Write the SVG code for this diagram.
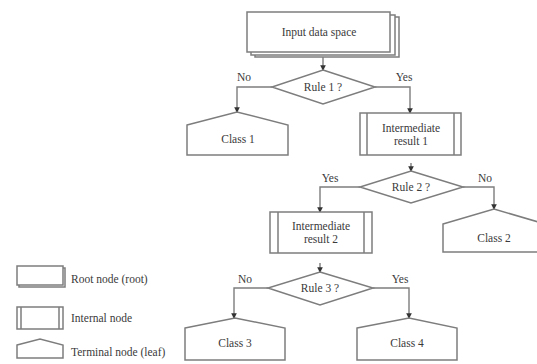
<svg xmlns="http://www.w3.org/2000/svg" width="537" height="364" viewBox="0 0 537 364">
<style>
.s{fill:#fff;stroke:#7d7d7d;stroke-width:1.5}
.l{fill:none;stroke:#7d7d7d;stroke-width:1.5}
.t{font-family:"Liberation Serif",serif;font-size:11.5px;fill:#3a3a3a;text-anchor:middle}
.lt{font-family:"Liberation Serif",serif;font-size:11.5px;fill:#3a3a3a}
.c{fill:none;stroke:#7d7d7d;stroke-width:1.4}
</style>
<defs>
<marker id="a" viewBox="0 0 6 6" refX="5" refY="3" markerWidth="4" markerHeight="4" orient="auto"><path d="M0,0L6,3L0,6Z" fill="#333"/></marker>
</defs>
<rect width="537" height="364" fill="#fff"/>
<g id="connectors">
<path class="c" d="M323,56V70" marker-end="url(#a)"/>
<path class="c" d="M272,87H237V112" marker-end="url(#a)"/>
<path class="c" d="M375,87H410V113" marker-end="url(#a)"/>
<path class="c" d="M411,163V171" marker-end="url(#a)"/>
<path class="c" d="M360,187H320V212" marker-end="url(#a)"/>
<path class="c" d="M463,187H494V209" marker-end="url(#a)"/>
<path class="c" d="M320,263V272" marker-end="url(#a)"/>
<path class="c" d="M268,288H234V318" marker-end="url(#a)"/>
<path class="c" d="M373,288H409V318" marker-end="url(#a)"/>
<text class="t" x="244" y="81">No</text>
<text class="t" x="404" y="81">Yes</text>
<text class="t" x="330" y="182">Yes</text>
<text class="t" x="485" y="182">No</text>
<text class="t" x="245" y="283">No</text>
<text class="t" x="400" y="283">Yes</text>
</g>
<g id="root">
<rect class="s" x="255" y="17" width="144" height="40"/>
<rect class="s" x="251" y="15" width="144" height="40"/>
<rect class="s" x="247" y="12" width="143" height="40"/>
<text class="t" x="319" y="36">Input data space</text>
</g>
<g id="rule1">
<path class="s" d="M323,70L375,87L323,104L272,87Z"/>
<text class="t" x="323" y="91">Rule 1 ?</text>
</g>
<g id="class1">
<path class="s" d="M187,125L237,112L288,125V155H187Z"/>
<text class="t" x="238" y="143">Class 1</text>
</g>
<g id="ir1">
<rect class="s" x="360" y="113" width="101" height="42"/>
<path class="l" d="M367,113V155M454,113V155"/>
<text class="t" x="411" y="132">Intermediate</text>
<text class="t" x="411" y="145">result 1</text>
</g>
<g id="rule2">
<path class="s" d="M411,171L463,187L411,203L360,187Z"/>
<text class="t" x="411" y="191">Rule 2 ?</text>
</g>
<g id="ir2">
<rect class="s" x="270" y="212" width="102" height="41"/>
<path class="l" d="M278,212V253M364,212V253"/>
<text class="t" x="321" y="230">Intermediate</text>
<text class="t" x="321" y="243">result 2</text>
</g>
<g id="class2">
<path class="s" d="M443,224L494,209L545,224V252H443Z"/>
<text class="t" x="494" y="242">Class 2</text>
</g>
<g id="rule3">
<path class="s" d="M320,272L373,288L320,305L268,288Z"/>
<text class="t" x="320" y="292">Rule 3 ?</text>
</g>
<g id="class3">
<path class="s" d="M185,328L235,318L285,328V360H185Z"/>
<text class="t" x="235" y="347">Class 3</text>
</g>
<g id="class4">
<path class="s" d="M357,328L409,318L457,328V360H357Z"/>
<text class="t" x="407" y="347">Class 4</text>
</g>
<g id="legend">
<rect class="s" x="19" y="268" width="46" height="19"/>
<rect class="s" x="17" y="266" width="46" height="19"/>
<text class="lt" x="71" y="283">Root node (root)</text>
<rect class="s" x="17" y="307" width="46" height="22"/>
<path class="l" d="M21,307V329M59,307V329"/>
<text class="lt" x="71" y="322">Internal node</text>
<path class="s" d="M17,345L40,339L63,345V358H17Z"/>
<text class="lt" x="71" y="356">Terminal node (leaf)</text>
</g>
</svg>
